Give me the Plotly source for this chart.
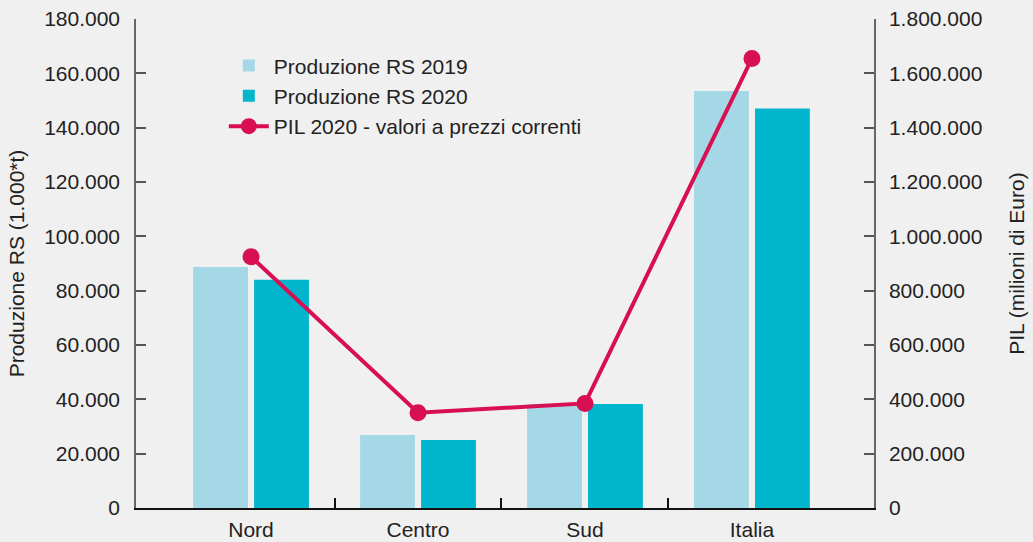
import plotly.graph_objects as go

categories = ["Nord", "Centro", "Sud", "Italia"]
prod_2019 = [88700, 26900, 38300, 153500]
prod_2020 = [84000, 25000, 38300, 147100]
pil_2020 = [925000, 350500, 385000, 1655000]
boundaries = [0.5, 1.5, 2.5]

xpos = list(range(len(categories)))
BG = "#f0f0f0"
FONT = "Liberation Sans, Arial, sans-serif"
TXT = "#222222"
FS = 21

fig = go.Figure()
fig.add_trace(go.Bar(x=xpos, y=prod_2019, name="Produzione RS 2019",
                     marker=dict(color="#a5d8e6", line=dict(width=0))))
fig.add_trace(go.Bar(x=xpos, y=prod_2020, name="Produzione RS 2020",
                     marker=dict(color="#00b5cc", line=dict(width=0))))
fig.add_trace(go.Scatter(x=xpos, y=pil_2020, name="PIL 2020 - valori a prezzi correnti",
                         yaxis="y2", mode="lines+markers",
                         line=dict(color="#d80f52", width=4),
                         marker=dict(color="#d80f52", size=17)))

fig.update_layout(
    width=1033, height=542,
    margin=dict(l=136, r=159, t=19, b=34, autoexpand=False),
    paper_bgcolor=BG, plot_bgcolor=BG,
    font=dict(family=FONT, size=FS, color=TXT),
    separators=",.",
    barmode="group", bargap=0.27, bargroupgap=0.1,
    showlegend=True,
    legend=dict(x=0.119, y=0.946, xanchor="left", yanchor="top",
                bgcolor="rgba(0,0,0,0)", font=dict(size=FS, color=TXT),
                tracegroupgap=0, itemwidth=40),
    xaxis=dict(range=[-0.689, 3.731], tickmode="array", tickvals=xpos,
               ticktext=categories, ticks="", showgrid=False, zeroline=False,
               showline=True, linecolor="#111111", linewidth=1.5,
               tickfont=dict(size=FS, color=TXT), ticklabelstandoff=2, automargin=False,
               minor=dict(tickmode="array", tickvals=boundaries, ticks="inside",
                          ticklen=10, tickcolor="#111111", tickwidth=1.5, showgrid=False)),
    yaxis=dict(range=[0, 180000], tickmode="linear", tick0=0, dtick=20000,
               tickformat=",d", ticks="inside", ticklen=10, tickcolor="#555555",
               tickwidth=1.5, showline=True, linecolor="#666666", linewidth=1.5,
               showgrid=False, zeroline=False, ticklabelstandoff=10, automargin=False,
               title=dict(text="Produzione RS (1.000*t)", font=dict(size=FS, color=TXT), standoff=14)),
    yaxis2=dict(range=[0, 1800000], tickmode="linear", tick0=0, dtick=200000,
                tickformat=",d", ticks="inside", ticklen=10, tickcolor="#555555",
                tickwidth=1.5, showline=True, linecolor="#666666", linewidth=1.5,
                showgrid=False, zeroline=False, overlaying="y", side="right",
                ticklabelstandoff=9, automargin=False,
                title=dict(text="PIL (milioni di Euro)", font=dict(size=FS, color=TXT), standoff=28)),
)

fig.write_html("out.html", config={"displayModeBar": False},
               post_script="document.body.style.margin='0';document.body.style.overflow='hidden';")
